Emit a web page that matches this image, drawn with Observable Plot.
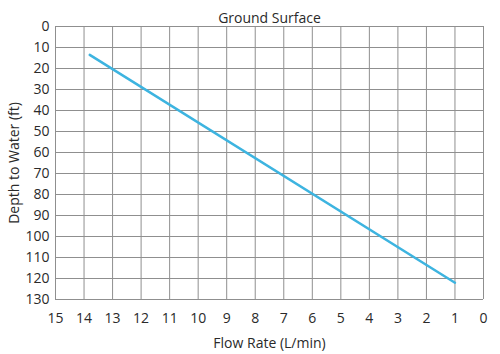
<!DOCTYPE html>
<html><head><meta charset="utf-8">
<script src="https://cdn.jsdelivr.net/npm/d3@7"></script>
<script src="https://cdn.jsdelivr.net/npm/@observablehq/plot@0.6"></script>
<style>body{margin:0;background:#fff;} svg{font-family:"Open Sans",sans-serif;}</style>
</head><body><div id="chart"></div>
<script>
const flowRate = [13.8, 1];
const depth = [13.5, 122];
const xTicks = [15,14,13,12,11,10,9,8,7,6,5,4,3,2,1,0];
const yTicks = [0,10,20,30,40,50,60,70,80,90,100,110,120,130];
const title = "Ground Surface";
const data = flowRate.map((f,i)=>({f, d: depth[i]}));

const chart = Plot.plot({
  width: 500, height: 354,
  marginTop: 26, marginBottom: 55, marginLeft: 55, marginRight: 17,
  style: {fontFamily: "'Open Sans', sans-serif", fontSize: "14px", color: "#2a2a2a", background: "#fff"},
  x: {domain: [15, 0], ticks: xTicks},
  y: {domain: [0, 130], reverse: true, ticks: yTicks},
  marks: [
    Plot.gridX(xTicks, {stroke: "#8f8f8f", strokeOpacity: 1, strokeWidth: 1}),
    Plot.gridY(yTicks, {stroke: "#8f8f8f", strokeOpacity: 1, strokeWidth: 1}),
    Plot.axisX({ticks: xTicks, tickSize: 0, tickPadding: 14, label: "Flow Rate (L/min)", labelAnchor: "center", labelArrow: "none", labelOffset: 48, fontSize: 14}),
    Plot.axisY({ticks: yTicks, tickSize: 0, tickPadding: 6, label: "Depth to Water (ft)", labelAnchor: "center", labelArrow: "none", labelOffset: 46, fontSize: 14}),
    Plot.line(data, {x: "f", y: "d", stroke: "#3db4e0", strokeWidth: 2.5}),
    Plot.text([title], {frameAnchor: "top", dy: -13, text: d => d, fontSize: 14, fill: "#2a2a2a"})
  ]
});
document.getElementById("chart").append(chart);
</script></body></html>
